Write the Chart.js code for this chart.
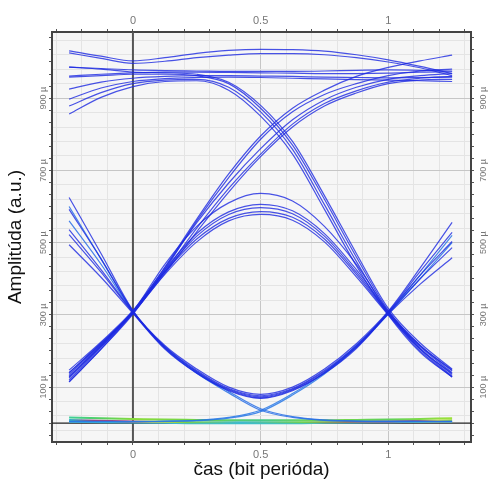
<!DOCTYPE html>
<html>
<head>
<meta charset="utf-8">
<script src="https://cdn.jsdelivr.net/npm/chart.js@4.4.1/dist/chart.umd.min.js"></script>
<style>
  html, body { margin: 0; padding: 0; background: #fff; }
  #wrap { width: 504px; height: 479px; position: relative; }
</style>
</head>
<body>
<div id="wrap"><canvas id="eye"></canvas></div>
<script>
// Eye diagram - amplitude (micro units) vs time (bit periods)

var xMin = -0.317, xMax = 1.324;
var yMin = -52, yMax = 1083;

// sample instants of every trace
var timeBits = [-0.25, -0.125, 0, 0.125, 0.25, 0.375, 0.5, 0.625, 0.75, 0.875, 1, 1.125, 1.25];

// 1 -> 1 -> 1 (top band)
var stayHigh = [
  [1031, 1016, 1003, 1012, 1024, 1032, 1035, 1034, 1030, 1020, 1006, 988, 968],
  [1025, 1010, 996, 1002, 1012, 1019, 1023, 1023, 1020, 1012, 1000, 984, 962],
  [986, 982, 978, 976, 975, 974, 974, 974, 975, 977, 978, 977, 975],
  [961, 966, 970, 972, 972, 971, 970, 969, 968, 968, 969, 972, 973],
  [925, 944, 955, 960, 962, 962, 961, 960, 958, 957, 956, 957, 958],
  [897, 928, 946, 954, 957, 958, 957, 955, 953, 951, 950, 948, 946]
];

// 1 -> 1 -> 0
var fallHigh = [
  [958, 962, 966, 966, 962, 940, 872, 770, 620, 460, 312, 215, 147],
  [878, 915, 940, 950, 952, 930, 862, 758, 605, 448, 305, 205, 138],
  [856, 902, 932, 946, 948, 922, 850, 745, 592, 436, 300, 196, 128],
  [986, 980, 972, 970, 966, 944, 880, 780, 630, 470, 318, 222, 150]
];

// 0 -> 1 -> 1
var riseHigh = [
  [147, 225, 312, 430, 555, 665, 760, 840, 895, 930, 952, 962, 968],
  [140, 220, 308, 420, 540, 650, 745, 828, 885, 920, 944, 955, 960],
  [125, 212, 305, 415, 530, 640, 738, 820, 878, 914, 940, 950, 952],
  [114, 205, 302, 425, 560, 680, 786, 862, 910, 940, 962, 975, 980],
  [130, 215, 310, 432, 565, 690, 795, 872, 922, 960, 985, 1003, 1019]
];

// 0 -> 1 -> 0 (single pulse)
var singlePulse = [
  [140, 222, 310, 440, 545, 610, 636, 615, 545, 440, 310, 215, 145],
  [128, 215, 308, 425, 525, 585, 606, 588, 525, 425, 308, 208, 135],
  [120, 210, 306, 420, 518, 578, 597, 580, 518, 418, 305, 205, 130],
  [135, 218, 309, 418, 510, 567, 586, 570, 510, 412, 303, 212, 140],
  [115, 205, 304, 412, 502, 560, 578, 562, 502, 405, 300, 200, 128]
];

// 1 -> 0 -> 1 (bottom of the eye)
var eyeBottom = [
  [625, 470, 312, 215, 150, 100, 80, 100, 150, 220, 310, 430, 556],
  [592, 455, 310, 212, 146, 96, 76, 96, 146, 215, 308, 420, 528],
  [536, 425, 308, 210, 143, 94, 73, 94, 143, 212, 306, 410, 503],
  [522, 418, 306, 208, 140, 92, 70, 92, 140, 210, 304, 400, 486],
  [494, 404, 304, 205, 138, 90, 69, 90, 138, 207, 302, 385, 458]
];

// 1 -> 0 -> 0
var fallLow = [
  [600, 455, 310, 212, 142, 88, 40, 18, 9, 6, 5, 5, 5],
  [560, 440, 308, 208, 138, 84, 36, 16, 8, 6, 5, 5, 5]
];

// 0 -> 0 -> 1
var riseLow = [
  [5, 5, 5, 6, 8, 16, 36, 82, 140, 215, 305, 410, 520],
  [4, 4, 4, 5, 7, 14, 32, 78, 136, 210, 302, 400, 500]
];

// 0 -> 0 -> 0 (coloured floor)
var floorLines = [
  [16, 14, 12, 10, 9, 8, 8, 8, 8, 9, 10, 12, 14],
  [9, 7, 5, 4, 3, 3, 3, 3, 3, 4, 5, 6, 8],
  [4, 3, 2, 1, 0, 0, 0, 0, 1, 2, 3, 4, 5]
];

var xLabelTicks = [0, 0.5, 1];
var yLabelTicks = [100, 300, 500, 700, 900];

var traceBlue = 'rgba(28,40,225,0.8)';
var fontFamily = '"Liberation Sans", Arial, sans-serif';

function toPoints(vals) {
  return vals.map(function(v, i) { return { x: timeBits[i], y: v }; });
}

function traceSet(list, color, width) {
  return list.map(function(vals) {
    return {
      data: toPoints(vals),
      borderColor: color,
      borderWidth: width,
      pointRadius: 0,
      fill: false,
      cubicInterpolationMode: 'monotone'
    };
  });
}

function floorGradient(stops) {
  return function(ctx) {
    var area = ctx.chart.chartArea;
    if (!area) return stops[0][1];
    var g = ctx.chart.ctx.createLinearGradient(area.left, 0, area.right, 0);
    stops.forEach(function(s) { g.addColorStop(s[0], s[1]); });
    return g;
  };
}

var floorStops = [
  [[0.04, '#3fcf9a'], [0.12, '#55d060'], [0.2, '#8bdc3c'], [0.35, '#6fd34a'], [0.5, '#47c98a'], [0.65, '#7ad84a'], [0.8, '#5fd05a'], [0.95, '#9be23a']],
  [[0.04, '#2ab8c8'], [0.1, '#a03a78'], [0.18, '#c04070'], [0.24, '#e8d840'], [0.32, '#78d048'], [0.45, '#40b8d0'], [0.6, '#70d050'], [0.78, '#b03a70'], [0.86, '#a83a78'], [0.92, '#e8e040'], [0.96, '#88d840']],
  [[0.04, '#38b0d8'], [0.5, '#3cc0c8'], [0.96, '#38b0d8']]
];

function isNear(v, list, eps) {
  for (var i = 0; i < list.length; i++) {
    if (Math.abs(v - list[i]) < eps) return list[i];
  }
  return null;
}

function stepTicks(from, to, step) {
  var out = [];
  for (var v = from; v <= to + 1e-9; v += step) out.push({ value: Math.round(v * 1000) / 1000 });
  return out;
}

var datasets = []
  .concat(traceSet(stayHigh, traceBlue, 1.2))
  .concat(traceSet(fallHigh, traceBlue, 1.2))
  .concat(traceSet(riseHigh, traceBlue, 1.2))
  .concat(traceSet(singlePulse, traceBlue, 1.2))
  .concat(traceSet(eyeBottom, traceBlue, 1.2))
  .concat(traceSet(fallLow, 'rgba(40,110,230,0.85)', 1.2))
  .concat(traceSet(riseLow, 'rgba(40,120,230,0.85)', 1.2));

floorLines.forEach(function(vals, i) {
  datasets.push({
    data: toPoints(vals),
    borderColor: floorGradient(floorStops[i]),
    borderWidth: 2,
    pointRadius: 0,
    fill: false,
    cubicInterpolationMode: 'monotone'
  });
});

// zero reference lines (amplitude 0 and time 0)
datasets.push({
  data: [{ x: xMin, y: 0 }, { x: xMax, y: 0 }],
  borderColor: '#222',
  borderWidth: 1.3,
  pointRadius: 0
});
datasets.push({
  data: [{ x: 0, y: yMin }, { x: 0, y: yMax }],
  borderColor: '#555',
  borderWidth: 2,
  pointRadius: 0
});

var plotBg = {
  id: 'plotBg',
  beforeDraw: function(chart) {
    var a = chart.chartArea, c = chart.ctx;
    c.save();
    c.fillStyle = '#f6f6f6';
    c.fillRect(a.left, a.top, a.right - a.left, a.bottom - a.top);
    c.restore();
  }
};

var xTickFont = { family: fontFamily, size: 11 };
var yTickFont = { family: fontFamily, size: 9 };

function xLabel(v) {
  var hit = isNear(v, xLabelTicks, 1e-6);
  return hit === null ? '' : String(hit);
}
function yLabel(v) {
  var hit = isNear(v, yLabelTicks, 0.5);
  return hit === null ? '' : hit + ' µ';
}

new Chart(document.getElementById('eye'), {
  type: 'line',
  data: { datasets: datasets },
  plugins: [plotBg],
  options: {
    responsive: true,
    maintainAspectRatio: false,
    animation: false,
    layout: { padding: 0 },
    plugins: { legend: { display: false }, tooltip: { enabled: false } },
    scales: {
      x: {
        type: 'linear', position: 'bottom', min: xMin, max: xMax,
        afterBuildTicks: function(s) { s.ticks = stepTicks(-0.3, 1.3, 0.1); },
        afterFit: function(s) { s.height = 37; },
        ticks: { autoSkip: false, maxRotation: 0, padding: 3, color: '#777', font: xTickFont, callback: xLabel },
        grid: {
          color: function(c) {
            var v = c.tick ? c.tick.value : 1;
            if (isNear(v, xLabelTicks, 1e-6) !== null) return '#c6c6c6';
            return '#e4e4e4';
          },
          tickColor: '#555', tickLength: 3, tickWidth: 1
        },
        border: { display: true, color: '#444', width: 2 },
        title: { display: true, text: 'čas (bit perióda)', color: '#111', font: { family: fontFamily, size: 19, lineHeight: 1 }, padding: { top: 0, bottom: 0 } }
      },
      x2: {
        type: 'linear', position: 'top', min: xMin, max: xMax,
        afterBuildTicks: function(s) { s.ticks = stepTicks(-0.3, 1.3, 0.1); },
        afterFit: function(s) { s.height = 32; },
        ticks: { autoSkip: false, maxRotation: 0, padding: 1, color: '#777', font: xTickFont, callback: xLabel },
        grid: { drawOnChartArea: false, tickColor: '#555', tickLength: 3, tickWidth: 1 },
        border: { display: true, color: '#444', width: 2 }
      },
      yGrid: {
        type: 'linear', position: 'left', min: yMin, max: yMax,
        afterBuildTicks: function(s) { s.ticks = stepTicks(-20, 1060, 40); },
        afterFit: function(s) { s.width = 0; },
        ticks: { display: false },
        grid: {
          drawTicks: false,
          color: function(c) {
            var v = c.tick ? c.tick.value : 0;
            return isNear(v, yLabelTicks, 0.5) !== null ? '#c6c6c6' : '#e4e4e4';
          }
        },
        border: { display: false }
      },
      y: {
        type: 'linear', position: 'left', min: yMin, max: yMax,
        afterBuildTicks: function(s) { s.ticks = stepTicks(100 - 4 * 100 / 3, 1070, 100 / 3); },
        afterFit: function(s) { s.width = 52; },
        ticks: { autoSkip: false, minRotation: 90, maxRotation: 90, crossAlign: 'center', padding: -6, color: '#777', font: yTickFont, callback: yLabel },
        grid: { drawOnChartArea: false, tickColor: '#555', tickLength: 3, tickWidth: 1 },
        border: { display: true, color: '#444', width: 2 },
        title: { display: true, text: 'Amplitúda (a.u.)', color: '#111', font: { family: fontFamily, size: 19, lineHeight: 1 }, padding: { top: 6.5, bottom: 0 } }
      },
      y2: {
        type: 'linear', position: 'right', min: yMin, max: yMax,
        afterBuildTicks: function(s) { s.ticks = stepTicks(100 - 4 * 100 / 3, 1070, 100 / 3); },
        afterFit: function(s) { s.width = 33; },
        ticks: { autoSkip: false, minRotation: 90, maxRotation: 90, crossAlign: 'center', padding: -2, color: '#777', font: yTickFont, callback: yLabel },
        grid: { drawOnChartArea: false, tickColor: '#555', tickLength: 3, tickWidth: 1 },
        border: { display: true, color: '#444', width: 2 }
      }
    }
  }
});
</script>
</body>
</html>
